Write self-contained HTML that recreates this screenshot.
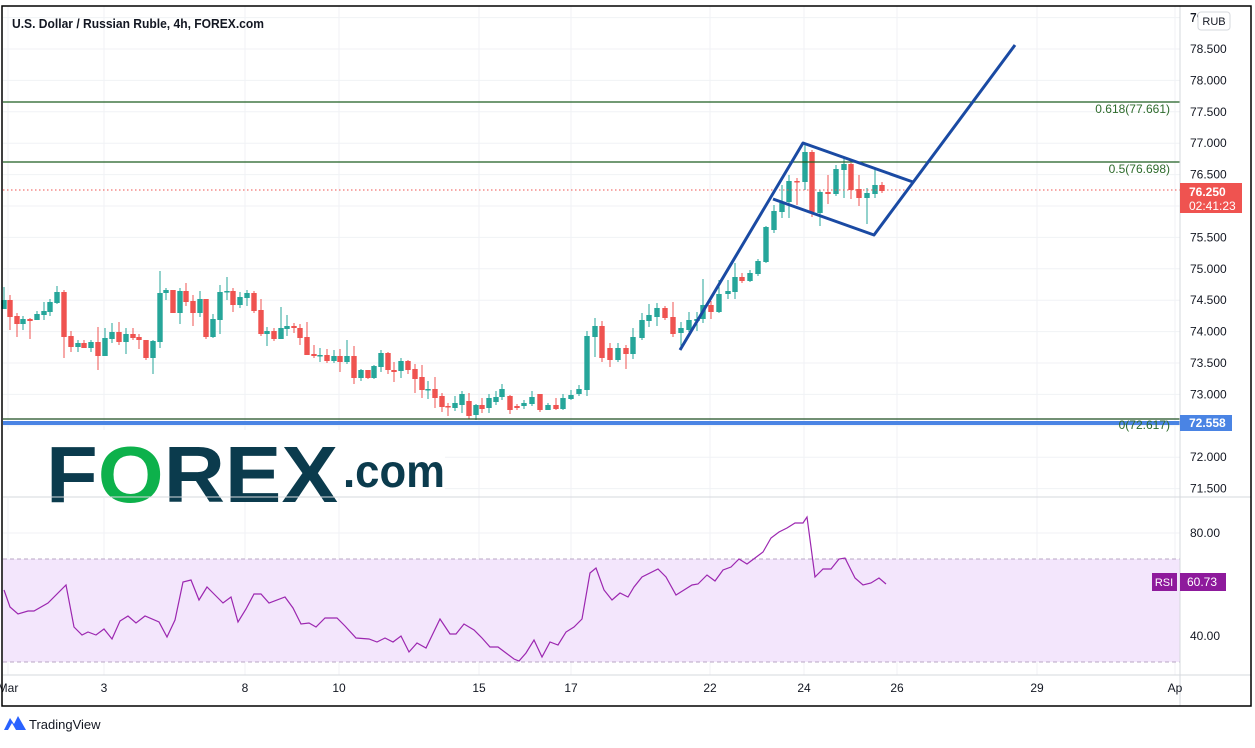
<!DOCTYPE html>
<html><head><meta charset="utf-8"><style>
body{margin:0;background:#fff;width:1255px;height:743px;overflow:hidden;font-family:"Liberation Sans",sans-serif}
svg text{font-family:"Liberation Sans",sans-serif}
</style></head><body>
<svg id="s" width="1255" height="743" xmlns="http://www.w3.org/2000/svg">
<rect x="0" y="0" width="1255" height="743" fill="#fff"/>
<g id="grid" stroke="#f0f2f5" stroke-width="1"></g>
<rect x="3" y="559" width="1177" height="103" fill="#f3e6fc"/>
<line x1="3" y1="559" x2="1180" y2="559" stroke="#b9a7c4" stroke-dasharray="4,3"/>
<line x1="3" y1="662" x2="1180" y2="662" stroke="#b9a7c4" stroke-dasharray="4,3"/>
<g id="candles"></g>
<line x1="3" y1="102" x2="1180" y2="102" stroke="#1e5e20" stroke-width="1.2"/>
<line x1="3" y1="162" x2="1180" y2="162" stroke="#1e5e20" stroke-width="1.2"/>
<line x1="3" y1="419" x2="1180" y2="419" stroke="#1e4e20" stroke-width="1.2"/>
<line x1="3" y1="423" x2="1180" y2="423" stroke="#4a84e4" stroke-width="4"/>
<line x1="3" y1="190" x2="1180" y2="190" stroke="#ef5350" stroke-dasharray="1.5,2.5"/>
<text x="1170" y="113" font-size="12" fill="#2e6b2c" text-anchor="end">0.618(77.661)</text>
<text x="1170" y="173" font-size="12" fill="#2e6b2c" text-anchor="end">0.5(76.698)</text>
<text x="1170" y="429" font-size="12" fill="#2e6b2c" text-anchor="end">0(72.617)</text>
<g fill="none" stroke="#1a4aa3" stroke-width="3" stroke-linejoin="round">
<polyline points="680,350 803,143 913,182"/>
<polyline points="773,199 874,235 1015,45"/>
</g>
<rect x="0" y="430" width="445" height="68" fill="#fff"/>
<text x="46" y="502" font-size="80" font-weight="bold" fill="#0b3b4d" textLength="292" lengthAdjust="spacingAndGlyphs">F<tspan fill="#0db14b">O</tspan>REX</text>
<text x="343" y="487" font-size="46" font-weight="bold" fill="#0b3b4d" textLength="102" lengthAdjust="spacingAndGlyphs">.com</text>
<polyline id="rsi" fill="none" stroke="#9c27b0" stroke-width="1.2"/>
<line x1="3" y1="497" x2="1251" y2="497" stroke="#d6d8dd"/>
<line x1="3" y1="675" x2="1251" y2="675" stroke="#d6d8dd"/>
<line x1="1180" y1="6" x2="1180" y2="706" stroke="#d6d8dd"/>
<g id="axis" font-size="12" fill="#131722"></g>
<text x="12" y="28" font-size="13" fill="#131722" font-weight="bold" textLength="252" lengthAdjust="spacingAndGlyphs">U.S. Dollar / Russian Ruble, 4h, FOREX.com</text>
<rect x="1198" y="12" width="32" height="18" rx="3" fill="#fff" stroke="#d6d8dd"/>
<text x="1214" y="25" font-size="11" fill="#131722" text-anchor="middle">RUB</text>
<rect x="1180" y="183" width="62" height="30" fill="#ef5350"/>
<text x="1189" y="196" font-size="12" fill="#fff" font-weight="bold">76.250</text>
<text x="1189" y="210" font-size="12" fill="#fff">02:41:23</text>
<rect x="1180" y="415" width="52" height="16" fill="#4a84e4"/>
<text x="1189" y="427" font-size="12" fill="#fff" font-weight="bold">72.558</text>
<rect x="1152" y="573" width="25" height="18" fill="#8e1a9c"/>
<text x="1164" y="586" font-size="11" fill="#fff" text-anchor="middle">RSI</text>
<rect x="1180" y="573" width="46" height="18" fill="#8e1a9c"/>
<text x="1187" y="586" font-size="12" fill="#fff">60.73</text>
<rect x="2" y="6" width="1249" height="700" fill="none" stroke="#000" stroke-width="1.5"/>
<g transform="translate(4,714)"><path d="M0 16 L6 4 L10 10 L14 2 L22 16 Z" fill="#2962ff"/><path d="M4 16 L8 9 L12 16Z" fill="#fff"/></g>
<text x="29" y="729" font-size="13" fill="#131722">TradingView</text>
</svg>
<script>
const NS="http://www.w3.org/2000/svg";
function el(p,t,a,txt){const e=document.createElementNS(NS,t);for(const k in a)e.setAttribute(k,a[k]);if(txt!=null)e.textContent=txt;p.appendChild(e);return e;}
const grid=document.getElementById('grid'),axis=document.getElementById('axis');
function py(p){return 49+(78.5-p)*62.8;}
for(let p=71.5;p<=79.01;p+=0.5){const y=py(p);el(grid,'line',{x1:3,y1:y,x2:1180,y2:y});el(axis,'text',{x:1190,y:y+4},p.toFixed(3));}
[['Mar',8],['3',104],['8',245],['10',339],['15',479],['17',571],['22',710],['24',804],['26',897],['29',1037],['Ap',1175]].forEach(([t,x])=>{el(grid,'line',{x1:x,y1:6,x2:x,y2:675});el(axis,'text',{x:x,y:692,'text-anchor':'middle'},t);});
[[533,'80.00'],[636,'40.00']].forEach(([y,t])=>{el(grid,'line',{x1:3,y1:y,x2:1180,y2:y});el(axis,'text',{x:1190,y:y+4},t);});
el(axis,'text',{x:1190,y:22},'79');
const C=[[4,300,309,'g',287,309],[10,300,317,'r',295,330],[17,316,324,'r',313,337],[23,319,324,'g',316,330],[30,319,321,'r',318,339],[37,314,320,'g',311,320],[44,311,315,'g',302,320],[50,302,312,'g',299,316],[57,292,303,'g',286,304],[64,292,337,'r',290,358],[71,336,347,'r',331,352],[78,343,347,'g',340,352],[84,343,348,'r',340,348],[91,342,348,'g',340,352],[98,342,356,'r',327,370],[105,338,356,'g',328,356],[112,332,339,'g',323,343],[119,332,342,'r',322,345],[126,334,342,'g',328,354],[133,334,338,'r',328,340],[139,337,340,'r',334,349],[146,340,358,'r',340,360],[153,341,358,'g',340,374],[160,293,342,'g',271,348],[166,290,293,'g',288,300],[173,290,313,'r',290,313],[180,291,313,'g',288,324],[186,291,302,'r',283,306],[193,301,313,'r',295,326],[200,299,313,'g',291,317],[206,299,337,'r',299,339],[213,319,337,'g',314,338],[220,292,320,'g',285,334],[227,291,292,'g',277,300],[233,291,305,'r',288,312],[240,297,305,'g',292,308],[247,293,298,'g',290,306],[254,293,311,'r',291,313],[261,310,334,'r',299,336],[267,331,334,'g',327,346],[274,331,339,'r',328,341],[281,328,339,'g',307,339],[287,326,329,'g',315,336],[294,326,328,'r',323,333],[300,328,338,'r',324,345],[307,337,355,'r',322,355],[314,354,356,'r',345,358],[320,355,356,'g',348,362],[327,355,361,'r',349,363],[334,356,361,'g',350,363],[340,356,362,'r',349,372],[347,356,362,'g',340,364],[354,356,378,'r',346,384],[361,370,378,'g',369,381],[368,370,378,'r',370,379],[374,366,378,'g',365,379],[381,353,367,'g',350,372],[388,353,370,'r',352,374],[394,370,372,'r',362,382],[401,361,371,'g',358,378],[408,361,370,'r',360,374],[415,369,379,'r',364,393],[422,377,390,'r',365,398],[428,389,390,'g',381,399],[435,389,398,'r',377,408],[442,396,407,'r',393,412],[448,406,407,'r',403,416],[455,403,408,'g',396,411],[462,394,405,'g',391,413],[469,401,416,'r',393,419],[476,405,415,'g',404,420],[482,405,409,'r',398,413],[489,398,408,'g',394,413],[496,397,402,'g',391,405],[502,389,397,'g',384,400],[510,396,410,'r',395,414],[517,406,408,'r',404,410],[524,403,406,'g',400,409],[532,397,404,'g',391,406],[540,394,410,'r',394,412],[548,405,410,'g',403,410],[556,405,409,'r',398,410],[563,398,409,'g',394,410],[571,395,399,'g',390,400],[579,389,394,'g',385,396],[587,336,390,'g',331,396],[595,326,337,'g',318,357],[602,326,358,'r',321,362],[610,348,360,'r',343,367],[618,348,360,'g',343,362],[626,348,354,'r',345,369],[633,337,354,'g',328,359],[642,320,338,'g',313,340],[649,315,321,'g',304,327],[657,308,317,'g',303,326],[665,308,318,'r',306,320],[673,317,334,'r',302,337],[681,328,333,'g',322,347],[689,320,330,'g',312,332],[697,319,321,'g',312,331],[703,305,319,'g',279,323],[711,305,312,'r',301,319],[719,294,312,'g',280,313],[728,291,294,'g',280,299],[735,277,292,'g',263,299],[742,277,281,'r',273,283],[750,273,281,'g',270,282],[758,261,274,'g',259,276],[766,227,262,'g',226,263],[774,211,230,'g',205,233],[782,203,212,'g',185,218],[789,181,202,'g',175,218],[797,181,182,'r',178,205],[805,152,182,'g',145,190],[812,152,212,'r',150,217],[820,192,213,'g',190,226],[828,192,194,'r',175,204],[836,169,194,'g',165,196],[844,164,170,'g',158,198],[851,164,190,'r',163,199],[859,189,198,'r',175,206],[867,193,198,'g',188,224],[875,185,194,'g',168,198],[882,185,191,'r',182,193]];
const cg=document.getElementById('candles');
C.forEach(([x,t,b,c,wt,wb])=>{const col=c=='g'?'#26a69a':'#ef5350';el(cg,'line',{x1:x,y1:wt,x2:x,y2:wb,stroke:col,'stroke-width':1});el(cg,'rect',{x:x-2.7,y:t,width:5.4,height:Math.max(1.5,b-t),fill:col});});
const R=[[4,590],[10,607],[18,614],[28,611],[34,611],[48,603],[66,585],[74,627],[82,635],[88,632],[96,635],[104,629],[112,639],[120,621],[128,616],[136,623],[145,616],[159,622],[167,637],[175,620],[183,582],[191,580],[199,600],[207,587],[215,595],[223,603],[231,597],[238,622],[246,609],[254,594],[261,594],[269,603],[285,597],[293,608],[301,624],[309,623],[316,627],[325,618],[337,618],[345,626],[356,638],[369,639],[377,642],[385,638],[393,642],[401,636],[409,652],[417,643],[426,648],[440,619],[450,634],[456,634],[464,624],[474,630],[482,638],[490,647],[498,647],[506,653],[514,659],[519,661],[526,653],[534,640],[542,657],[550,642],[558,645],[566,632],[574,627],[582,619],[590,573],[596,568],[604,590],[612,600],[620,593],[628,597],[634,587],[642,577],[658,569],[666,577],[676,595],[684,590],[692,585],[698,584],[707,575],[715,581],[723,570],[731,567],[739,559],[747,564],[755,558],[763,552],[771,538],[779,532],[787,528],[795,523],[803,523],[807,517],[815,577],[823,569],[831,569],[839,559],[845,558],[855,578],[863,585],[871,583],[879,578],[886,584]];
document.getElementById('rsi').setAttribute('points',R.map(p=>p.join(',')).join(' '));
</script>
</body></html>
